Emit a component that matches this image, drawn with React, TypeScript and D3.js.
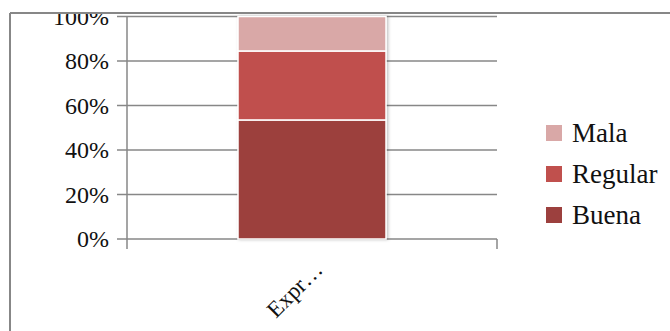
import * as d3 from 'd3'

const categories = ['Expr…']
const seriesNames = ['Buena', 'Regular', 'Mala']
const buena = [53.5]
const regular = [31]
const mala = [15.5]
const yTicks = [0, 20, 40, 60, 80, 100]
const legendOrder = ['Mala', 'Regular', 'Buena']

const colors: Record<string, string> = {
  Buena: '#9C403E',
  Regular: '#C0504D',
  Mala: '#D9A8A7',
}

function App() {
  const width = 670,
        height = 331
  const plot = { left: 127, right: 497, top: 16.5, bottom: 239 }

  const rows = categories.map((c, i) => ({
    cat: c,
    Buena: buena[i],
    Regular: regular[i],
    Mala: mala[i],
  }))
  const stacked = d3.stack<any>().keys(seriesNames)(rows)

  const x = d3.scaleBand().domain(categories).range([plot.left, plot.right]).paddingInner(0.6).paddingOuter(0.3)
  const y = d3.scaleLinear().domain([0, 100]).range([plot.bottom, plot.top])

  const font = '"Liberation Serif", "Times New Roman", serif'
  const grid = '#878787'

  return (
    <svg width={width} height={height} style={{ position: 'absolute', left: 0, top: 0 }}>
      <defs>
        <filter id='sh' x='-10%' y='-10%' width='120%' height='120%'>
          <feDropShadow dx='1.5' dy='0' stdDeviation='1.5' floodColor='#000' floodOpacity='0.25' />
        </filter>
        <clipPath id='inner'>
          <rect x={0} y={13} width={width} height={height} />
        </clipPath>
      </defs>
      <rect x={0} y={0} width={width} height={height} fill='#fff' />

      <g clipPath='url(#inner)'>
        {yTicks.map(t => (
          <g key={t}>
            <line x1={plot.left - 10} x2={plot.right} y1={y(t)} y2={y(t)} stroke={grid} strokeWidth={1.5} />
            <text x={109} y={y(t)} dy='0.35em' textAnchor='end' fontFamily={font} fontSize={24} fill='#111'>
              {t}%
            </text>
          </g>
        ))}
        <line x1={plot.left} x2={plot.left} y1={plot.top} y2={plot.bottom + 10} stroke={grid} strokeWidth={1.5} />
        <line x1={plot.right} x2={plot.right} y1={plot.bottom} y2={plot.bottom + 10} stroke={grid} strokeWidth={1.5} />

        <g filter='url(#sh)'>
          {stacked.map(s =>
            s.map((d, i) => (
              <rect
                key={s.key + i}
                x={x(categories[i])!}
                y={y(d[1])}
                width={x.bandwidth()}
                height={y(d[0]) - y(d[1])}
                fill={colors[s.key]}
                stroke='#fff'
                strokeWidth={1.5}
              />
            ))
          )}
        </g>

        {categories.map(c => {
          const cx = x(c)! + x.bandwidth() / 2 + 12
          return (
            <text key={c} transform={`translate(${cx}, 271) rotate(-45)`} textAnchor='end' fontFamily={font} fontSize={23} fill='#111'>
              {c}
            </text>
          )
        })}

        {legendOrder.map((n, i) => (
          <g key={n} transform={`translate(546, ${133 + i * 41})`}>
            <rect x={0} y={-8} width={16} height={16} fill={colors[n]} />
            <text x={26} y={0} dy='0.35em' fontFamily={font} fontSize={27} fill='#111'>
              {n}
            </text>
          </g>
        ))}
      </g>

      {/* outer chart border */}
      <line x1={10} x2={width} y1={13} y2={13} stroke={grid} strokeWidth={2} />
      <line x1={10} x2={10} y1={13} y2={height} stroke={grid} strokeWidth={2} />
    </svg>
  )
}

export default App
